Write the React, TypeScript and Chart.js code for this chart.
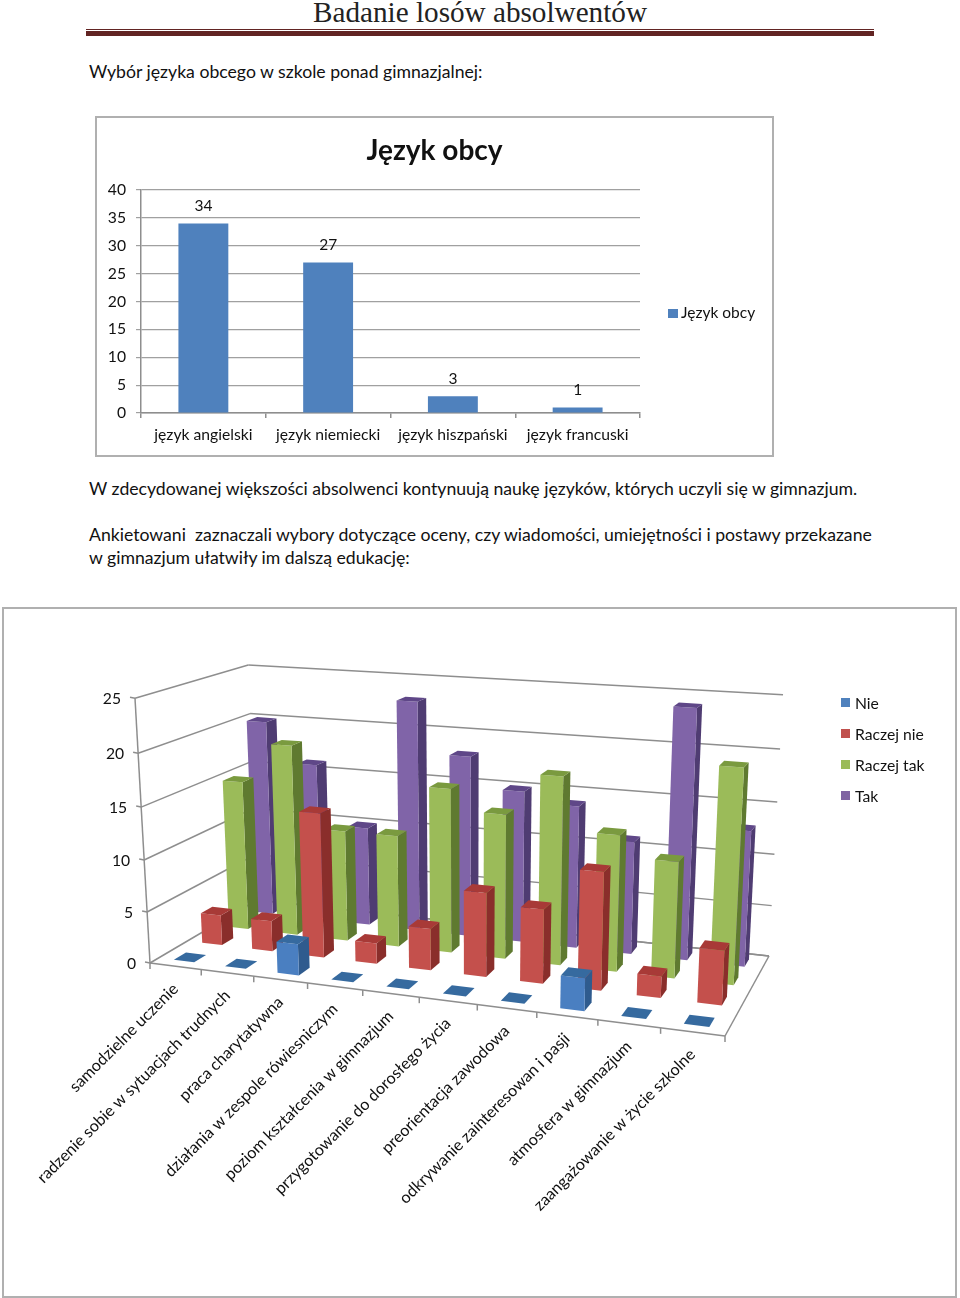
import React, { useEffect, useRef } from "react";
import { Chart, registerables } from "chart.js";

Chart.register(...registerables);

const languageLabels = ["język angielski", "język niemiecki", "język hiszpański", "język francuski"];
const languageValues = [34, 27, 3, 1];

const skillLabels = [
  "samodzielne uczenie",
  "radzenie sobie w sytuacjach trudnych",
  "praca charytatywna",
  "działania w zespole rówiesniczym",
  "poziom kształcenia w gimnazjum",
  "przygotowanie do dorosłego życia",
  "preorientacja zawodowa",
  "odkrywanie zainteresowan i pasji",
  "atmosfera w gimnazjum",
  "zaangażowanie w życie szkolne",
];
const nie = [0, 0, 3, 0, 0, 0, 0, 3, 0, 0];
const raczejNie = [3, 3, 14, 2, 4, 8, 7, 11, 2, 5];
const raczejTak = [15, 19, 11, 11, 16, 14, 18, 13, 11, 20];
const tak = [20, 16, 10, 23, 18, 15, 14, 11, 24, 13];

const FONT = "Lato, Carlito, sans-serif";

type Pt = [number, number];

// Perspective camera of the 3D plot: floor corners, vanishing point of the
// verticals and the top of the front-left corner, all in page pixels.
const CORNER_A: Pt = [150, 963];
const CORNER_B: Pt = [725, 1036];
const CORNER_C: Pt = [769, 956];
const CORNER_D: Pt = [257, 900];
const VANISH: Pt = [468, 6576];
const TOP_A_X = 135;

function makeProjection(p0: Pt, p1: Pt, p2: Pt, p3: Pt, vp: Pt, topX: number) {
  const dx1 = p1[0] - p2[0], dx2 = p3[0] - p2[0], sx = p0[0] - p1[0] + p2[0] - p3[0];
  const dy1 = p1[1] - p2[1], dy2 = p3[1] - p2[1], sy = p0[1] - p1[1] + p2[1] - p3[1];
  const den = dx1 * dy2 - dx2 * dy1;
  const g = (sx * dy2 - dx2 * sy) / den;
  const h = (dx1 * sy - sx * dy1) / den;
  const a = p1[0] - p0[0] + g * p1[0], b = p3[0] - p0[0] + h * p3[0], c = p0[0];
  const d = p1[1] - p0[1] + g * p1[1], e = p3[1] - p0[1] + h * p3[1], f = p0[1];
  const t = (p0[0] - topX) / (topX - vp[0]);
  return (u: number, v: number, w: number): Pt => {
    const q = g * u + h * v + 1 + t * w;
    return [(a * u + b * v + c + vp[0] * t * w) / q, (d * u + e * v + f + vp[1] * t * w) / q];
  };
}
const project = makeProjection(CORNER_A, CORNER_B, CORNER_C, CORNER_D, VANISH, TOP_A_X);

const barShades = [
  { front: "#4a7fc1", side: "#2f5b8e", top: "#366a9f" },
  { front: "#c4504c", side: "#8a2e2b", top: "#a83a37" },
  { front: "#9bbb59", side: "#5f7a30", top: "#7a9a3f" },
  { front: "#8064a8", side: "#4f3c72", top: "#5f4788" },
];
const BAR_FRACTION = 0.4;
const DEPTH_FRACTION = 0.42;
const OX = 4, OY = 609;

function poly(ctx: CanvasRenderingContext2D, pts: Pt[], fill: string) {
  ctx.beginPath();
  pts.forEach((p, i) => (i ? ctx.lineTo(p[0], p[1]) : ctx.moveTo(p[0], p[1])));
  ctx.closePath();
  ctx.fillStyle = fill;
  ctx.fill();
}
function seg(ctx: CanvasRenderingContext2D, a: Pt, b: Pt) {
  ctx.beginPath();
  ctx.moveTo(a[0], a[1]);
  ctx.lineTo(b[0], b[1]);
  ctx.stroke();
}

const plot3d = {
  id: "plot3d",
  beforeDatasetsDraw(chart: any) {
    const ctx: CanvasRenderingContext2D = chart.ctx;
    const xs = chart.scales.x, ys = chart.scales.y;
    const frac = (val: number) => (ys.bottom - ys.getPixelForValue(val)) / (ys.bottom - ys.top);
    const ticks = ys.ticks.map((t: any) => t.value as number);
    ctx.save();
    ctx.translate(-OX, -OY);
    ctx.strokeStyle = "#8e8e8e";
    ctx.lineWidth = 1.5;
    // floor
    seg(ctx, project(0, 1, 0), project(1, 1, 0));
    seg(ctx, project(1, 0, 0), project(1, 1, 0));
    seg(ctx, project(0, 0, 0), project(1, 0, 0));
    // walls and y ticks
    ticks.forEach((t: number) => {
      const w = frac(t);
      seg(ctx, project(0, 0, w), project(0, 1, w));
      seg(ctx, project(0, 1, w), project(1, 1, w));
      const p = project(0, 0, w);
      seg(ctx, p, [p[0] - 5, p[1] - 1]);
      ctx.fillStyle = "#111";
      ctx.font = `15.7px ${FONT}`;
      ctx.textAlign = "right";
      ctx.textBaseline = "middle";
      ctx.fillText(String(t), p[0] - 14, p[1] + 1);
    });
    seg(ctx, project(0, 0, 0), project(0, 0, 1));
    // x ticks
    const n = xs.getLabels().length;
    for (let i = 0; i <= n; i++) {
      const p = project(i / n, 0, 0);
      seg(ctx, p, [p[0], p[1] + 6]);
    }
    // bars, back to front and left to right
    const unit = (xs.getPixelForValue(1) - xs.getPixelForValue(0)) / xs.width;
    const rows = chart.data.datasets.length;
    for (let s = rows - 1; s >= 0; s--) {
      const values: number[] = chart.data.datasets[s].data;
      const shade = barShades[s];
      values.forEach((val, i) => {
        const uc = (xs.getPixelForValue(i) - xs.left) / xs.width;
        const u0 = uc - (unit * BAR_FRACTION) / 2, u1 = uc + (unit * BAR_FRACTION) / 2;
        const v0 = (s + (1 - DEPTH_FRACTION) / 2) / rows, v1 = v0 + DEPTH_FRACTION / rows;
        const w = frac(val);
        if (val > 0) {
          poly(ctx, [project(u1, v0, 0), project(u1, v1, 0), project(u1, v1, w), project(u1, v0, w)], shade.side);
          poly(ctx, [project(u0, v0, 0), project(u1, v0, 0), project(u1, v0, w), project(u0, v0, w)], shade.front);
        }
        poly(ctx, [project(u0, v0, w), project(u1, v0, w), project(u1, v1, w), project(u0, v1, w)], shade.top);
      });
    }
    // rotated category labels
    ctx.fillStyle = "#111";
    ctx.font = `16.2px ${FONT}`;
    xs.getLabels().forEach((label: string, i: number) => {
      const uc = (xs.getPixelForValue(i) - xs.left) / xs.width;
      const p = project(uc, 0, 0);
      ctx.save();
      ctx.translate(p[0], p[1] + 20);
      ctx.rotate(-Math.PI / 4);
      ctx.textAlign = "right";
      ctx.textBaseline = "middle";
      ctx.fillText(label, 0, 0);
      ctx.restore();
    });
    // legend
    chart.data.datasets.forEach((ds: any, s: number) => {
      const y = 703 + s * 31;
      ctx.fillStyle = ds.backgroundColor;
      ctx.fillRect(841, y - 5, 9, 9);
      ctx.fillStyle = "#111";
      ctx.font = `15.7px ${FONT}`;
      ctx.textAlign = "left";
      ctx.textBaseline = "middle";
      ctx.fillText(ds.label, 855, y + 1);
    });
    ctx.restore();
    return false;
  },
};

const barExtras = {
  id: "barExtras",
  afterLayout(chart: any) {
    if (chart.titleBlock) {
      chart.titleBlock.left = 0;
      chart.titleBlock.right = chart.width;
    }
  },
  afterDatasetsDraw(chart: any) {
    const ctx: CanvasRenderingContext2D = chart.ctx;
    const meta = chart.getDatasetMeta(0);
    const ds = chart.data.datasets[0];
    ctx.save();
    ctx.fillStyle = "#111";
    ctx.font = `15.5px ${FONT}`;
    ctx.textAlign = "center";
    ctx.textBaseline = "middle";
    meta.data.forEach((el: any, i: number) => {
      ctx.fillText(String(ds.data[i]), el.x, el.y - 17);
    });
    ctx.fillStyle = ds.backgroundColor;
    ctx.fillRect(572, 192, 10, 9);
    ctx.fillStyle = "#111";
    ctx.textAlign = "left";
    ctx.fillText(ds.label, 585, 196);
    ctx.restore();
  },
};

const textStyle = (top: number, left: number, size: number): React.CSSProperties => ({
  position: "absolute",
  top,
  left,
  fontFamily: FONT,
  fontSize: size,
  lineHeight: "24px",
  whiteSpace: "nowrap",
  color: "#111",
});

export default function App() {
  const barRef = useRef<HTMLCanvasElement>(null);
  const plotRef = useRef<HTMLCanvasElement>(null);

  useEffect(() => {
    const tickFont = { family: FONT, size: 15.7 };
    const bar = new Chart(barRef.current!, {
      type: "bar",
      data: {
        labels: languageLabels,
        datasets: [
          {
            label: "Język obcy",
            data: languageValues,
            backgroundColor: "#4f81bd",
            barPercentage: 1,
            categoryPercentage: 0.4,
          },
        ],
      },
      options: {
        responsive: false,
        animation: false,
        layout: { padding: { right: 133, left: 0, top: 0, bottom: 0 } },
        plugins: {
          legend: { display: false },
          tooltip: { enabled: false },
          title: {
            display: true,
            text: "Język obcy",
            color: "#111",
            font: { family: FONT, size: 28, weight: "bold" },
            padding: { top: 17, bottom: 22.4 },
          },
        },
        scales: {
          x: {
            afterFit: (s: any) => { s.height = 43; },
            grid: { drawOnChartArea: false, color: "#8e8e8e", tickLength: 5, lineWidth: 1.5 },
            border: { color: "#8e8e8e", width: 1.5 },
            ticks: { color: "#111", font: tickFont, maxRotation: 0, autoSkip: false, padding: 8 },
          },
          y: {
            min: 0,
            max: 40,
            afterFit: (s: any) => { s.width = 45; },
            grid: { color: "#a0a0a0", tickLength: 5, lineWidth: 1.2 },
            border: { color: "#8e8e8e", width: 1.5 },
            ticks: { color: "#111", font: tickFont, stepSize: 5, padding: 10 },
          },
        },
      },
      plugins: [barExtras],
    } as any);

    const plot = new Chart(plotRef.current!, {
      type: "bar",
      data: {
        labels: skillLabels,
        datasets: [
          { label: "Nie", data: nie, backgroundColor: "#4f81bd" },
          { label: "Raczej nie", data: raczejNie, backgroundColor: "#c0504d" },
          { label: "Raczej tak", data: raczejTak, backgroundColor: "#9bbb59" },
          { label: "Tak", data: tak, backgroundColor: "#8064a2" },
        ],
      },
      options: {
        responsive: false,
        animation: false,
        plugins: { legend: { display: false }, tooltip: { enabled: false } },
        scales: {
          x: { display: false },
          y: { display: false, min: 0, max: 25, ticks: { stepSize: 5 } },
        },
      },
      plugins: [plot3d],
    } as any);

    return () => {
      bar.destroy();
      plot.destroy();
    };
  }, []);

  return (
    <div style={{ position: "absolute", left: 0, top: 0, width: 960, height: 1298, background: "#fff", overflow: "hidden" }}>
      <div
        style={{
          position: "absolute",
          top: -5,
          left: 0,
          width: 960,
          textAlign: "center",
          fontFamily: "'Liberation Serif', serif",
          fontSize: 29.2,
          lineHeight: "34px",
          color: "#222",
        }}
      >
        Badanie losów absolwentów
      </div>
      <div style={{ position: "absolute", left: 86, top: 29, width: 788, height: 1, background: "#622423" }} />
      <div style={{ position: "absolute", left: 86, top: 31, width: 788, height: 5, background: "#622423" }} />
      <div style={textStyle(60, 89, 17.65)}>Wybór języka obcego w szkole ponad gimnazjalnej:</div>
      <div style={textStyle(477, 89, 17.65)}>
        W zdecydowanej większości absolwenci kontynuują naukę języków, których uczyli się w gimnazjum.
      </div>
      <div style={textStyle(523, 89, 17.65)}>
        Ankietowani&nbsp; zaznaczali wybory dotyczące oceny, czy wiadomości, umiejętności i postawy przekazane
      </div>
      <div style={textStyle(546, 89, 17.65)}>w gimnazjum ułatwiły im dalszą edukację:</div>
      <div style={{ position: "absolute", boxSizing: "border-box", left: 95, top: 116, width: 679, height: 341, border: "2px solid #b0b0b0" }} />
      <canvas ref={barRef} width={677} height={339} style={{ position: "absolute", left: 96, top: 117 }} />
      <div style={{ position: "absolute", boxSizing: "border-box", left: 2, top: 607, width: 955, height: 691, border: "2px solid #b0b0b0" }} />
      <canvas ref={plotRef} width={951} height={687} style={{ position: "absolute", left: 4, top: 609 }} />
    </div>
  );
}
